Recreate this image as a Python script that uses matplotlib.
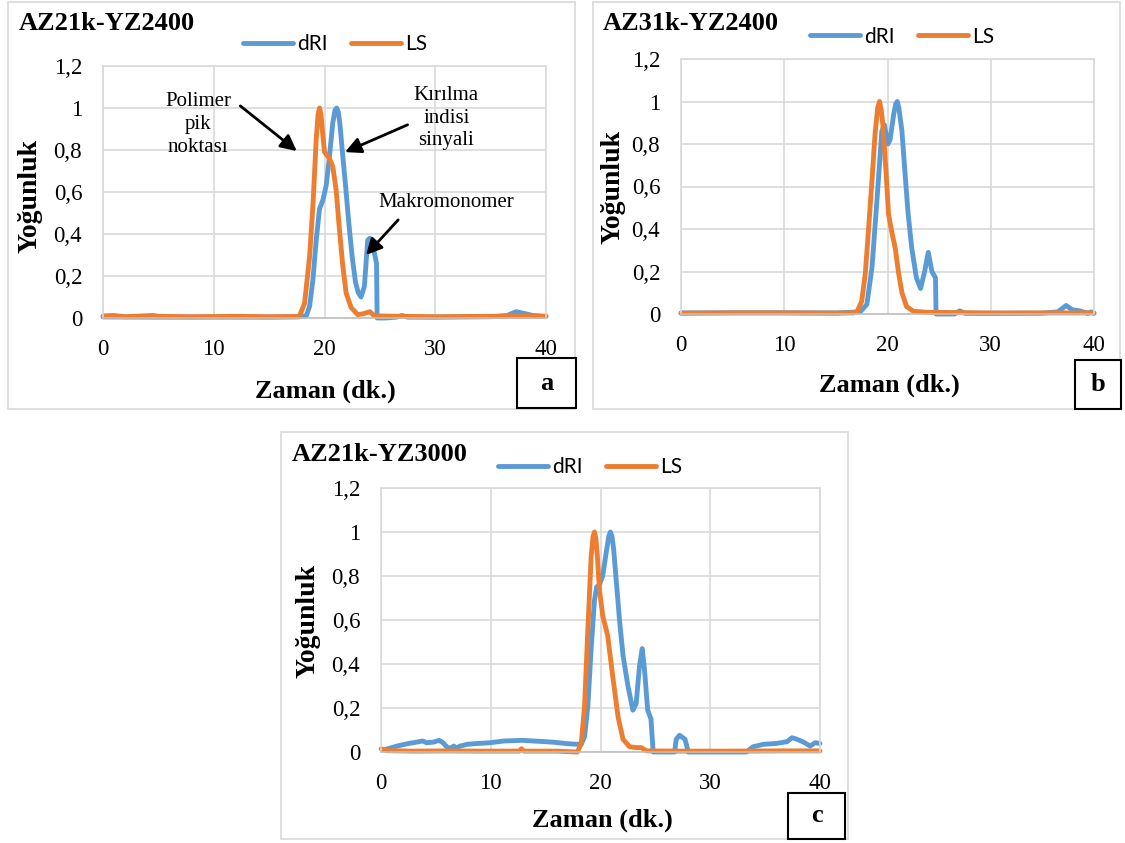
import matplotlib
matplotlib.use("Agg")
import matplotlib.pyplot as plt  # noqa: E402
from matplotlib.patches import Rectangle  # noqa: E402
from matplotlib.ticker import FuncFormatter  # noqa: E402

W, H = 1125, 843
BLUE, ORANGE = "#5B9BD5", "#ED7D31"
GRID, AXIS = "#D9D9D9", "#BFBFBF"
SERIF, SANS = "Liberation Serif", "Lato"

X_TICKS = [0, 10, 20, 30, 40]
Y_TICKS = [0, 0.2, 0.4, 0.6, 0.8, 1.0, 1.2]

# ---- panel a: AZ21k-YZ2400 ---------------------------------------------------
a_dri_t = [0, 5, 10, 15, 17.5, 18.35, 18.65, 18.95, 19.25, 19.55, 19.85, 20.15,
           20.45, 20.75, 20.95, 21.1, 21.25, 21.4, 21.6, 21.9, 22.2, 22.5, 22.8,
           23.05, 23.3, 23.6, 23.9, 24.1, 24.3, 24.5, 24.7, 24.75, 25.5, 26.5,
           27.0, 27.5, 30, 35, 36.5, 37.3, 38.0, 38.8, 40]
a_dri_y = [0.005, 0.004, 0.004, 0.004, 0.005, 0.01, 0.055, 0.18, 0.37, 0.52,
           0.56, 0.63, 0.77, 0.93, 0.99, 1.0, 0.98, 0.92, 0.80, 0.63, 0.45,
           0.29, 0.17, 0.12, 0.10, 0.15, 0.37, 0.38, 0.35, 0.31, 0.26, 0.0, 0.0,
           0.004, 0.012, 0.004, 0.004, 0.006, 0.012, 0.03, 0.022, 0.012, 0.008]
a_ls_t = [0, 1, 2, 4.5, 5, 8, 12, 15, 17.5, 17.75, 18.2, 18.65, 18.95, 19.25,
          19.42, 19.55, 19.68, 19.8, 20.0, 20.45, 20.75, 21.05, 21.35, 21.65,
          21.95, 22.4, 23.0, 23.5, 24.1, 24.5, 27, 30, 35, 40]
a_ls_y = [0.01, 0.012, 0.006, 0.012, 0.008, 0.006, 0.008, 0.006, 0.007, 0.01,
          0.07, 0.29, 0.53, 0.85, 0.97, 1.0, 0.97, 0.9, 0.79, 0.76, 0.72, 0.61,
          0.42, 0.25, 0.12, 0.05, 0.016, 0.02, 0.03, 0.01, 0.008, 0.006, 0.008,
          0.008]

# ---- panel b: AZ31k-YZ2400 ---------------------------------------------------
b_dri_t = [0, 5, 10, 15, 17.35, 18.0, 18.5, 19.0, 19.45, 19.7, 20.03, 20.25,
           20.6, 20.8, 20.95, 21.1, 21.4, 21.7, 22.0, 22.35, 22.8, 23.2, 23.6,
           23.95, 24.3, 24.65, 24.7, 26.5, 27.0, 27.5, 30, 35, 36.5, 37.3, 37.9,
           38.6, 39.4, 39.7, 40]
b_dri_y = [0.005, 0.006, 0.006, 0.005, 0.01, 0.045, 0.22, 0.55, 0.86, 0.89,
           0.80, 0.82, 0.94, 0.99, 1.0, 0.97, 0.86, 0.66, 0.47, 0.31, 0.17,
           0.12, 0.2, 0.29, 0.2, 0.17, 0.0, 0.0, 0.015, 0.003, 0.003, 0.004,
           0.01, 0.04, 0.02, 0.015, 0.003, 0.01, 0.003]
b_ls_t = [0, 5, 10, 15, 16.7, 17.05, 17.5, 17.85, 18.15, 18.5, 18.8, 19.05,
          19.23, 19.4, 19.55, 19.87, 20.1, 20.4, 20.75, 21.05, 21.4, 21.85,
          22.5, 23.8, 30, 40]
b_ls_y = [0.004, 0.005, 0.005, 0.004, 0.005, 0.01, 0.06, 0.19, 0.39, 0.63,
          0.85, 0.97, 1.0, 0.96, 0.89, 0.66, 0.47, 0.39, 0.31, 0.2, 0.1, 0.035,
          0.013, 0.008, 0.005, 0.005]

# ---- panel c: AZ21k-YZ3000 ---------------------------------------------------
c_dri_t = [0.45, 1.45, 2.45, 3.5, 3.8, 4.15, 4.8, 5.3, 5.65, 6.0, 6.3, 6.65,
           6.85, 7.2, 7.85, 8.85, 9.9, 11.2, 12.9, 13.9, 15.6, 16.95, 17.95,
           18.25, 18.55, 18.85, 19.15, 19.45, 19.65, 19.9, 20.2, 20.5, 20.75,
           20.9, 21.05, 21.2, 21.45, 21.75, 22.05, 22.5, 22.95, 23.25, 23.55,
           23.8, 24.0, 24.3, 24.6, 24.8, 26.75, 26.9, 27.2, 27.7, 28.0, 33.3,
           33.9, 34.85, 36.05, 37.0, 37.45, 37.9, 38.5, 39.1, 39.55, 40.0]
c_dri_y = [0.012, 0.027, 0.038, 0.047, 0.05, 0.042, 0.045, 0.053, 0.042, 0.023,
           0.017, 0.027, 0.017, 0.027, 0.035, 0.039, 0.042, 0.05, 0.053, 0.05,
           0.045, 0.038, 0.035, 0.035, 0.07, 0.21, 0.47, 0.69, 0.75, 0.76, 0.8,
           0.9, 0.98, 1.0, 0.98, 0.92, 0.77, 0.59, 0.44, 0.3, 0.19, 0.22, 0.39,
           0.47, 0.38, 0.19, 0.15, 0.0, 0.0, 0.058, 0.076, 0.058, 0.0, 0.0,
           0.024, 0.035, 0.039, 0.047, 0.065, 0.058, 0.045, 0.027, 0.042, 0.039]
c_ls_t = [0, 0.5, 3, 6, 9, 12.6, 12.8, 13.0, 16, 17.9, 18.25, 18.55, 18.85,
          19.15, 19.32, 19.45, 19.58, 19.7, 19.9, 20.2, 20.65, 21.1, 21.6,
          22.05, 22.65, 23.25, 23.7, 24.2, 27, 32, 36, 40]
c_ls_y = [0.015, 0.006, 0.004, 0.005, 0.004, 0.004, 0.015, 0.004, 0.004, 0.0,
          0.04, 0.21, 0.56, 0.89, 0.98, 1.0, 0.97, 0.9, 0.74, 0.62, 0.53, 0.35,
          0.16, 0.058, 0.024, 0.02, 0.02, 0.005, 0.004, 0.004, 0.005, 0.005]


def fx(x):
    return x / W


def fy(y):
    return 1 - y / H


def frame(fig, x0, y0, x1, y1, **kw):
    r = Rectangle((fx(x0), fy(y1)), fx(x1) - fx(x0), fy(y0) - fy(y1),
                  transform=fig.transFigure, **kw)
    fig.add_artist(r)


def comma(v, _):
    return ("%g" % round(v, 1)).replace(".", ",")


def panel(fig, p):
    frame(fig, *p["frame"], fill=False, ec=GRID, lw=1.2, zorder=0)
    l, t, r, b = p["axes"]
    ax = fig.add_axes([fx(l), fy(b), fx(r) - fx(l), fy(t) - fy(b)])
    line_kw = dict(lw=3.5, clip_on=False, solid_joinstyle="round",
                   solid_capstyle="round")
    ax.plot(p["dri"][0], p["dri"][1], color=BLUE, label="dRI", **line_kw)
    ax.plot(p["ls"][0], p["ls"][1], color=ORANGE, label="LS", **line_kw)
    ax.set_xlim(0, 40)
    ax.set_ylim(0, 1.2)
    ax.set_xticks(X_TICKS)
    ax.set_yticks(Y_TICKS)
    ax.yaxis.set_major_formatter(FuncFormatter(comma))
    ax.grid(color=GRID, lw=1.2)
    ax.set_axisbelow(True)
    for s in ax.spines.values():
        s.set_color(GRID)
        s.set_linewidth(1.2)
    ax.spines["bottom"].set_color(AXIS)
    ax.tick_params(length=0, labelsize=16.5, pad=15)
    for lab in ax.get_xticklabels() + ax.get_yticklabels():
        lab.set_fontfamily(SERIF)
    ax.legend(loc="center", bbox_to_anchor=p["legend"], ncol=2, frameon=False,
              prop={"family": SANS, "size": 15}, handlelength=2.4,
              handletextpad=0.2, columnspacing=1.1)

    tx, ty = p["title_at"]
    fig.text(fx(tx), fy(ty), p["title"], family=SERIF, weight="bold",
             size=19, ha="left", va="center")
    yx, yy = p["ylabel_at"]
    fig.text(fx(yx), fy(yy), "Yoğunluk", family=SERIF, weight="bold",
             size=20, rotation=90, ha="center", va="center")
    xx, xy = p["xlabel_at"]
    fig.text(fx(xx), fy(xy), "Zaman (dk.)", family=SERIF, weight="bold",
             size=19, ha="center", va="center")
    bx0, by0, bx1, by1 = p["tag_box"]
    frame(fig, bx0, by0, bx1, by1, fc="white", ec="black", lw=1.5, zorder=5)
    fig.text(fx((bx0 + bx1) / 2), fy((by0 + by1) / 2), p["tag"],
             family=SERIF, weight="bold", size=19, ha="center", va="center",
             zorder=6)
    return ax


fig = plt.figure(figsize=(W / 100, H / 100), dpi=100)

panels = [
    dict(frame=(8, 2, 575, 409), axes=(103, 66, 546, 318),
         dri=(a_dri_t, a_dri_y), ls=(a_ls_t, a_ls_y), legend=(0.524, 1.087),
         title="AZ21k-YZ2400", title_at=(19, 24), ylabel_at=(30, 196),
         xlabel_at=(325, 391), tag_box=(517, 358, 576, 408), tag="a"),
    dict(frame=(593, 2, 1120, 409), axes=(681, 59, 1094, 314),
         dri=(b_dri_t, b_dri_y), ls=(b_ls_t, b_ls_y), legend=(0.535, 1.088),
         title="AZ31k-YZ2400", title_at=(603, 24), ylabel_at=(613, 187),
         xlabel_at=(889, 385), tag_box=(1075, 360, 1121, 409), tag="b"),
    dict(frame=(281, 432, 848, 839), axes=(381, 488, 820, 752),
         dri=(c_dri_t, c_dri_y), ls=(c_ls_t, c_ls_y), legend=(0.476, 1.08),
         title="AZ21k-YZ3000", title_at=(292, 454), ylabel_at=(308, 621),
         xlabel_at=(602, 820), tag_box=(788, 793, 845, 839), tag="c"),
]
axes = [panel(fig, p) for p in panels]

# annotations on panel a
ax = axes[0]
txt = dict(family=SERIF, size=15, ha="center", va="center")
arrow = dict(arrowstyle="-|>", color="black", lw=2, mutation_scale=24,
             shrinkA=0, shrinkB=0)
ax.text(8.6, 0.92, "Polimer\npik\nnoktası", linespacing=1.3, **txt)
ax.text(31.0, 0.95, "Kırılma\nindisi\nsinyali", linespacing=1.25, **txt)
ax.text(31.0, 0.55, "Makromonomer", **txt)
ax.annotate("", xy=(17.5, 0.795), xytext=(12.4, 1.01), arrowprops=arrow)
ax.annotate("", xy=(21.85, 0.79), xytext=(27.5, 0.92), arrowprops=arrow)
ax.annotate("", xy=(23.75, 0.30), xytext=(26.65, 0.467), arrowprops=arrow)

fig.savefig("out.png", dpi=100)
